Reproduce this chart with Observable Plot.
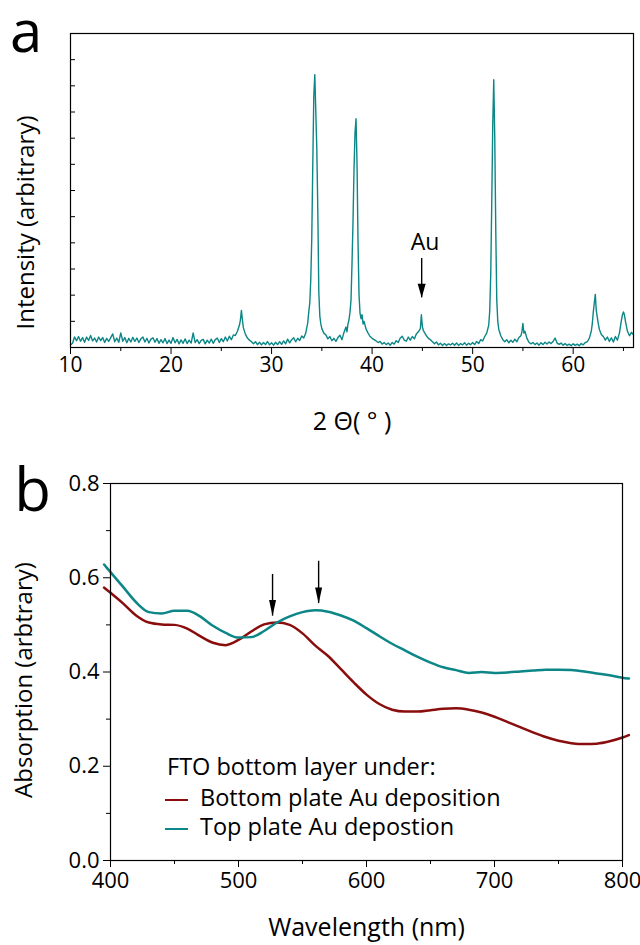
<!DOCTYPE html>
<html><head><meta charset="utf-8">
<script src="https://cdn.jsdelivr.net/npm/d3@7"></script>
<script src="https://cdn.jsdelivr.net/npm/@observablehq/plot@0.6"></script>
<style>
body{margin:0;background:#fff;font-family:"Open Sans",sans-serif;}
#wrap{position:relative;width:640px;height:945px;overflow:hidden;}
#wrap svg{position:absolute;left:0;overflow:visible;}
.abs{position:absolute;white-space:nowrap;line-height:1;color:#000;font-family:"Open Sans",sans-serif;}
.sw{position:absolute;height:2.5px;width:23px;}
</style></head><body><div id="wrap"></div>
<script>
// ---- panel a : XRD ----
const twoTheta = [10,10.2,10.4,10.6,10.8,11,11.2,11.4,11.6,11.8,12,12.2,12.4,12.6,12.8,13,13.2,13.4,13.6,13.8,14,14.2,14.4,14.6,14.8,15,15.2,15.4,15.6,15.8,16,16.2,16.4,16.6,16.8,17,17.2,17.4,17.6,17.8,18,18.2,18.4,18.6,18.8,19,19.2,19.4,19.6,19.8,20,20.2,20.4,20.6,20.8,21,21.2,21.4,21.6,21.8,22,22.2,22.4,22.6,22.8,23,23.2,23.4,23.6,23.8,24,24.2,24.4,24.6,24.8,25,25.2,25.4,25.6,25.8,26,26.2,26.4,26.6,26.8,26.9,27,27.1,27.2,27.4,27.6,27.8,28,28.2,28.4,28.6,28.8,29,29.2,29.4,29.6,29.8,30,30.2,30.4,30.6,30.8,31,31.2,31.4,31.6,31.8,32,32.2,32.4,32.6,32.8,33,33.2,33.4,33.6,33.7,33.8,33.9,34,34.1,34.2,34.3,34.4,34.5,34.6,34.7,34.8,34.9,35,35.2,35.4,35.6,35.8,36,36.2,36.4,36.6,36.8,37,37.2,37.4,37.5,37.6,37.7,37.8,37.9,38,38.1,38.2,38.3,38.4,38.5,38.6,38.7,38.8,38.9,39,39.1,39.2,39.4,39.6,39.8,40,40.2,40.4,40.6,40.8,41,41.2,41.4,41.6,41.8,42,42.2,42.4,42.6,42.8,43,43.2,43.4,43.6,43.8,44,44.2,44.4,44.6,44.8,44.9,45,45.1,45.2,45.4,45.6,45.8,46,46.2,46.4,46.6,46.8,47,47.2,47.4,47.6,47.8,48,48.2,48.4,48.6,48.8,49,49.2,49.4,49.6,49.8,50,50.2,50.4,50.6,50.8,51,51.2,51.4,51.6,51.7,51.8,51.9,52,52.1,52.2,52.3,52.4,52.5,52.6,52.8,53,53.2,53.4,53.6,53.8,54,54.2,54.4,54.6,54.8,54.9,55,55.1,55.2,55.4,55.6,55.8,56,56.2,56.4,56.6,56.8,57,57.2,57.4,57.6,57.8,58,58.2,58.4,58.6,58.8,59,59.2,59.4,59.6,59.8,60,60.2,60.4,60.6,60.8,61,61.2,61.4,61.6,61.8,61.9,62,62.1,62.2,62.3,62.4,62.5,62.6,62.8,63,63.2,63.4,63.6,63.8,64,64.2,64.4,64.6,64.8,64.9,65,65.1,65.2,65.4,65.6,65.8,66];
const intensity = [0.10,0.16,0.40,0.26,0.42,0.24,0.38,0.20,0.40,0.27,0.46,0.25,0.36,0.21,0.40,0.26,0.38,0.19,0.35,0.23,0.38,0.52,0.22,0.36,0.20,0.56,0.24,0.38,0.18,0.35,0.21,0.39,0.23,0.36,0.19,0.33,0.40,0.21,0.35,0.17,0.32,0.37,0.20,0.34,0.16,0.30,0.18,0.34,0.15,0.28,0.16,0.38,0.18,0.31,0.14,0.29,0.16,0.33,0.15,0.28,0.17,0.56,0.19,0.30,0.15,0.27,0.31,0.14,0.28,0.17,0.32,0.16,0.30,0.36,0.19,0.34,0.22,0.40,0.25,0.43,0.30,0.48,0.46,0.62,0.85,1.05,1.42,1.05,0.75,0.50,0.36,0.28,0.22,0.14,0.22,0.11,0.20,0.10,0.19,0.11,0.23,0.10,0.18,0.09,0.20,0.11,0.22,0.12,0.25,0.14,0.32,0.18,0.30,0.37,0.22,0.35,0.27,0.44,0.36,0.55,0.95,1.36,1.7,2.6,4.2,7.0,9.6,10.43,9.0,7.6,5.2,2.1,1.2,0.9,0.72,0.55,0.48,0.33,0.42,0.26,0.35,0.23,0.38,0.47,0.30,0.57,0.78,0.60,0.90,1.05,1.35,1.8,3.2,4.8,6.8,8.2,8.74,7.0,4.0,2.0,1.3,1.1,1.25,0.9,1.0,0.70,0.55,0.42,0.35,0.30,0.25,0.19,0.23,0.13,0.19,0.11,0.17,0.09,0.19,0.13,0.26,0.19,0.36,0.43,0.28,0.24,0.40,0.28,0.42,0.33,0.52,0.60,0.72,1.25,0.80,0.65,0.58,0.45,0.35,0.30,0.22,0.14,0.21,0.10,0.16,0.08,0.15,0.08,0.14,0.10,0.16,0.09,0.17,0.08,0.15,0.10,0.18,0.09,0.16,0.11,0.19,0.11,0.23,0.15,0.30,0.25,0.42,0.55,0.85,1.4,2.8,5.5,8.5,10.23,8.0,4.5,1.8,1.0,0.70,0.45,0.30,0.22,0.30,0.18,0.28,0.20,0.32,0.22,0.38,0.45,0.60,0.92,0.55,0.62,0.35,0.20,0.14,0.19,0.11,0.17,0.09,0.18,0.11,0.20,0.13,0.21,0.15,0.23,0.36,0.17,0.12,0.17,0.09,0.15,0.08,0.13,0.07,0.14,0.08,0.13,0.07,0.15,0.10,0.19,0.22,0.35,0.62,0.90,1.35,1.70,2.03,1.40,1.15,0.90,0.70,0.50,0.42,0.28,0.40,0.23,0.37,0.21,0.42,0.28,0.55,1.05,1.25,1.36,1.25,1.00,0.62,0.45,0.58,0.48];
const thetaTicks = [10,20,30,40,50,60];
const thetaMinorTicks = [15,25,35,45,55,65];
const intensityTicks = [1,2,3,4,5,6,7,8,9,10,11];
const auNote = [{x:44.93, yTop:3.40, yTip:1.90, labelX:45.27, labelY:3.99, text:"Au"}];

// ---- panel b : absorption ----
const wavelength = [395,400,410,420,430,440,450,460,470,480,490,500,510,520,530,540,550,560,570,580,590,600,610,620,630,640,650,660,670,680,690,700,710,720,730,740,750,760,770,780,790,800,805];
const bottomPlateAu = [0.579,0.568,0.545,0.520,0.505,0.501,0.500,0.492,0.476,0.462,0.457,0.468,0.486,0.501,0.505,0.500,0.482,0.456,0.434,0.406,0.378,0.352,0.332,0.320,0.316,0.316,0.319,0.322,0.323,0.320,0.314,0.305,0.294,0.283,0.272,0.262,0.254,0.249,0.247,0.248,0.253,0.261,0.266];
const topPlateAu = [0.628,0.612,0.580,0.548,0.527,0.524,0.530,0.530,0.518,0.498,0.483,0.473,0.474,0.487,0.505,0.518,0.527,0.531,0.528,0.520,0.509,0.493,0.476,0.460,0.446,0.432,0.420,0.410,0.404,0.398,0.400,0.398,0.399,0.401,0.403,0.405,0.405,0.404,0.401,0.397,0.393,0.388,0.386];
const wlTicks = [400,500,600,700,800];
const wlMinorTicks = [450,550,650,750];
const absTicks = [0,0.2,0.4,0.6,0.8];
const absMinorTicks = [0.1,0.3,0.5,0.7];
const bArrows = [{x:526.6, yTop:0.607, yTip:0.5186},{x:562.6, yTop:0.635, yTip:0.5455}];
const legendTitle = "FTO bottom layer under:";
const seriesNames = ["Bottom plate Au deposition","Top plate Au depostion"];
const seriesColors = ["#8a0d0d","#0c8686"];

const xrd = twoTheta.map((t,i)=>({t, v:intensity[i]}));
const absRows = wavelength.map((w,i)=>({w, bot:bottomPlateAu[i], top:topPlateAu[i]}));

const head = (w,h) => ({draw(ctx){ctx.moveTo(0,0);ctx.lineTo(-w/2,-h);ctx.lineTo(w/2,-h);ctx.closePath();}});
const font = {fontFamily:"Open Sans", fontSize:"21px", overflow:"visible", background:"transparent"};

const pa = Plot.plot({
  width:640, height:440, marginLeft:70, marginRight:7, marginTop:33, marginBottom:93,
  style:font,
  x:{domain:[10,66], axis:null},
  y:{domain:[0,12], axis:null},
  marks:[
    Plot.line(xrd,{x:"t", y:"v", stroke:seriesColors[1], strokeWidth:1.4}),
    Plot.frame({stroke:"black", strokeWidth:1.2}),
    Plot.axisX(thetaTicks,{tickSize:7, tickPadding:3, label:null, fontSize:21}),
    Plot.axisX(thetaMinorTicks,{tickSize:4, tickFormat:()=>"", label:null}),
    Plot.axisY(intensityTicks,{tickSize:5, dx:5, tickFormat:()=>"", label:null}),
    Plot.ruleX(auNote,{x:"x", y1:"yTop", y2:"yTip", stroke:"black", strokeWidth:1.4}),
    Plot.dot(auNote,{x:"x", y:"yTip", symbol:head(8,14), fill:"black", stroke:"none", r:5}),
    Plot.text(auNote,{x:"labelX", y:"labelY", text:"text", fontSize:23, fill:"black"}),
    Plot.text(["Intensity (arbitrary)"],{frameAnchor:"left", textAnchor:"middle", lineAnchor:"middle", dx:-44, dy:32, rotate:-90, fontSize:24, fill:"black"}),
    Plot.text(["2 \u0398( \u00b0 )"],{frameAnchor:"bottom", lineAnchor:"middle", dy:74, fontSize:25, fill:"black"})
  ]
});
pa.style.top = "0px";

const pb = Plot.plot({
  width:640, height:505, marginLeft:110, marginRight:18, marginTop:43, marginBottom:85,
  style:font,
  x:{domain:[400,800], axis:null},
  y:{domain:[0,0.8], axis:null},
  marks:[
    Plot.line(absRows,{x:"w", y:"bot", stroke:seriesColors[0], strokeWidth:2.5, curve:"monotone-x"}),
    Plot.line(absRows,{x:"w", y:"top", stroke:seriesColors[1], strokeWidth:2.5, curve:"monotone-x"}),
    Plot.frame({stroke:"black", strokeWidth:1.2}),
    Plot.axisX(wlTicks,{tickSize:7, tickPadding:5, label:null, fontSize:22}),
    Plot.axisX(wlMinorTicks,{tickSize:4, tickFormat:()=>"", label:null}),
    Plot.axisY(absTicks,{tickSize:7, tickPadding:4, tickFormat:d3.format(".1f"), label:null, fontSize:22}),
    Plot.axisY(absMinorTicks,{tickSize:4, tickFormat:()=>"", label:null}),
    Plot.ruleX(bArrows,{x:"x", y1:"yTop", y2:"yTip", stroke:"black", strokeWidth:1.4}),
    Plot.dot(bArrows,{x:"x", y:"yTip", symbol:head(7,16), fill:"black", stroke:"none", r:5}),
    Plot.text(["Absorption (arbtrary)"],{frameAnchor:"left", textAnchor:"middle", lineAnchor:"middle", dx:-86, dy:8, rotate:-90, fontSize:24, fill:"black"}),
    Plot.text(["Wavelength (nm)"],{frameAnchor:"bottom", lineAnchor:"middle", dy:67, fontSize:25, fill:"black"}),
    Plot.text(["b"],{frameAnchor:"top-left", textAnchor:"middle", lineAnchor:"middle", dx:-78, dy:8, fontSize:60, fill:"black"})
  ]
});
pb.style.top = "440px";

const wrap = document.getElementById("wrap");
wrap.appendChild(pa);
wrap.appendChild(pb);

function addText(txt, left, centerY, size){
  const d = document.createElement("div");
  d.className = "abs"; d.textContent = txt;
  d.style.left = left+"px"; d.style.top = (centerY - size*0.5)+"px"; d.style.fontSize = size+"px";
  d.style.height = size+"px"; d.style.lineHeight = size+"px";
  wrap.appendChild(d);
}
function addSwatch(color, left, centerY){
  const s = document.createElement("div");
  s.className = "sw"; s.style.background = color; s.style.left = left+"px"; s.style.top = (centerY-1.25)+"px";
  wrap.appendChild(s);
}
// panel letter "a" (HTML, tight line box)
const letterA = document.createElement("div");
letterA.className = "abs"; letterA.textContent = "a";
letterA.style.left = "10px"; letterA.style.top = "8px"; letterA.style.fontSize = "58px";
letterA.style.lineHeight = "44px"; letterA.style.height = "44px"; letterA.style.overflow = "visible";
wrap.appendChild(letterA);

addText(legendTitle, 167, 767, 23.5);
addSwatch(seriesColors[0], 165, 800);
addText(seriesNames[0], 200, 798, 23.5);
addSwatch(seriesColors[1], 165, 829);
addText(seriesNames[1], 200, 827, 23.5);
</script></body></html>
